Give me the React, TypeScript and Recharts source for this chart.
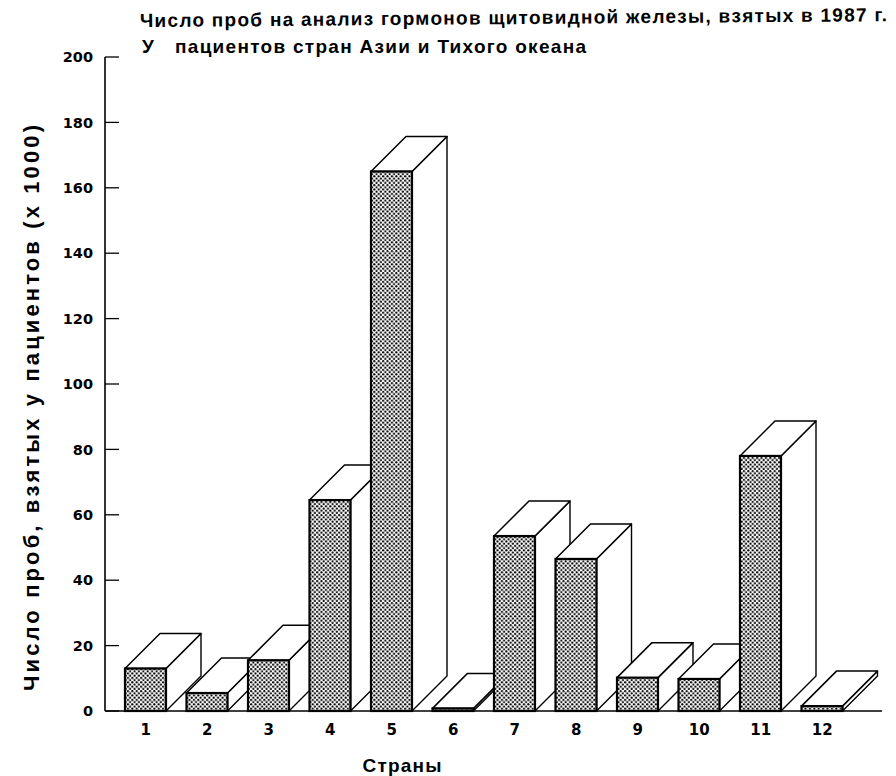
import React from 'react';
import { BarChart, Bar, XAxis, YAxis } from 'recharts';

const countries = ['1', '2', '3', '4', '5', '6', '7', '8', '9', '10', '11', '12'];
const samples = [13, 5.5, 15.5, 64.5, 165, 0.8, 53.5, 46.5, 10.2, 9.8, 78, 1.5];
const yTicks = [0, 20, 40, 60, 80, 100, 120, 140, 160, 180, 200];

const titleLine1 = 'Число проб на анализ гормонов щитовидной железы, взятых в 1987 г.';
const titleLine2a = 'У';
const titleLine2b = 'пациентов стран Азии и Тихого океана';
const yLabel = 'Число проб, взятых у пациентов (x 1000)';
const xLabel = 'Страны';

const data = countries.map((c, i) => ({ country: c, value: samples[i] }));

const DX = 35;
const DY = 35;
const TITLE_FONT = "'Liberation Sans', Arial, sans-serif";
const TICK_FONT = "'DejaVu Sans', sans-serif";

const Box3D = (props: any) => {
  const { x, y, width: w, height: h, index } = props;
  const id = `dots-${index}`;
  const b = y + h;
  const side = `${x + w},${y} ${x + w + DX},${y - DY} ${x + w + DX},${b - DY} ${x + w},${b}`;
  const top = `${x},${y} ${x + DX},${y - DY} ${x + w + DX},${y - DY} ${x + w},${y}`;
  return (
    <g>
      <defs>
        <pattern id={id} patternUnits="userSpaceOnUse" width={4.4} height={4.4}>
          <rect width={4.4} height={4.4} fill="#fff" />
          <circle cx={1.1} cy={1.1} r={1.1} fill="#000" />
          <circle cx={3.3} cy={3.3} r={1.1} fill="#000" />
        </pattern>
      </defs>
      <polygon points={side} fill="#fff" stroke="#000" strokeWidth={1.4} strokeLinejoin="round" />
      <polygon points={top} fill="#fff" stroke="#000" strokeWidth={1.5} strokeLinejoin="round" />
      <rect x={x} y={y} width={w} height={Math.max(h, 0.5)} fill={`url(#${id})`} stroke="#000" strokeWidth={2.2} />
    </g>
  );
};

const YTick = (props: any) => {
  const { x, y, payload } = props;
  return (
    <g>
      <line x1={x} x2={x + 14} y1={y} y2={y} stroke="#000" strokeWidth={1.3} />
      <text x={x - 12} y={y} dy="0.36em" textAnchor="end" fontFamily={TICK_FONT} fontWeight="bold" fontSize={14.5} fill="#000">
        {payload.value}
      </text>
    </g>
  );
};

const XTick = (props: any) => {
  const { x, y, payload } = props;
  return (
    <text x={x} y={y + 24} textAnchor="middle" fontFamily={TICK_FONT} fontWeight="bold" fontSize={15} fill="#000">
      {payload.value}
    </text>
  );
};

const YLabel = () => (
  <text
    x={31}
    y={400}
    transform="rotate(-90, 31, 400)"
    textAnchor="middle"
    fontFamily={TITLE_FONT}
    fontWeight="bold"
    fontSize={22}
    textLength={566}
    fill="#000"
  >
    {yLabel}
  </text>
);

const XLabel = () => (
  <text x={394} y={764} textAnchor="middle" fontFamily={TITLE_FONT} fontWeight="bold" fontSize={19} textLength={79} fill="#000">
    {xLabel}
  </text>
);

export default function App() {
  return (
    <div style={{ position: 'relative', width: 888, height: 768 }}>
      <BarChart width={888} height={768} data={data} margin={{ top: 49, right: 14, bottom: 15, left: 0 }}>
        <XAxis
          dataKey="country"
          tickLine={false}
          tickSize={0}
          tickMargin={0}
          interval={0}
          height={50}
          padding={{ left: 10, right: 29 }}
          axisLine={{ stroke: '#000', strokeWidth: 1.6 }}
          tick={<XTick />}
          label={<XLabel />}
        />
        <YAxis
          type="number"
          domain={[0, 200]}
          ticks={yTicks}
          interval={0}
          width={97}
          tickLine={false}
          tickSize={0}
          tickMargin={0}
          axisLine={{ stroke: '#000', strokeWidth: 1.6 }}
          tick={<YTick />}
          label={<YLabel />}
        />
        <Bar dataKey="value" barSize={41} shape={<Box3D />} isAnimationActive={false} />
      </BarChart>
      <svg width={896} height={70} style={{ position: 'absolute', left: -8, top: -8, pointerEvents: 'none' }}>
        <g transform="rotate(-0.45, 140, 27)">
          <text x={140} y={27} fontFamily={TITLE_FONT} fontWeight="bold" fontSize={19} textLength={747} fill="#000">
            {titleLine1}
          </text>
        </g>
        <text x={142} y={53} fontFamily={TITLE_FONT} fontWeight="bold" fontSize={19} fill="#000">
          {titleLine2a}
        </text>
        <text x={175} y={53} fontFamily={TITLE_FONT} fontWeight="bold" fontSize={19} textLength={411} fill="#000">
          {titleLine2b}
        </text>
      </svg>
    </div>
  );
}
